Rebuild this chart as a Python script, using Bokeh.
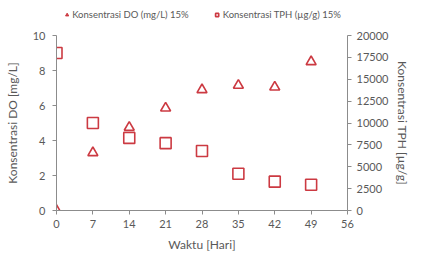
from bokeh.plotting import figure
from bokeh.layouts import column
from bokeh.models import Range1d, LinearAxis, Legend, LegendItem, FixedTicker
from bokeh.embed import file_html
from bokeh.resources import INLINE

days = [0, 7, 14, 21, 28, 35, 42, 49]
do_vals = [0.0, 3.3, 4.75, 5.85, 6.9, 7.15, 7.05, 8.5]
tph_vals = [18000, 10000, 8300, 7700, 6800, 4200, 3300, 2950]
x_ticks = [0, 7, 14, 21, 28, 35, 42, 49, 56]
do_ticks = [0, 2, 4, 6, 8, 10]
tph_ticks = [0, 2500, 5000, 7500, 10000, 12500, 15000, 17500, 20000]
legend_labels = ["Konsentrasi DO (mg/L) 15%", "Konsentrasi TPH (µg/g) 15%"]

RED = "#CC3A42"
GRAY = "#595959"
AX = "#8c8c8c"
FONT = "Lato"

p = figure(width=415, height=226, output_backend="svg", toolbar_location=None,
           x_range=Range1d(0, 56), y_range=Range1d(0, 10),
           min_border_left=56, min_border_right=68, min_border_top=7, min_border_bottom=43)
p.extra_y_ranges = {"tph": Range1d(0, 20000)}
p.outline_line_color = None
p.grid.visible = False
p.background_fill_color = "white"

def style(ax, std=6, lstd=6):
    ax.axis_line_color = AX
    ax.major_tick_line_color = AX
    ax.minor_tick_line_color = None
    ax.major_tick_out = 4
    ax.major_tick_in = 0
    ax.major_label_text_color = GRAY
    ax.major_label_text_font = FONT
    ax.major_label_text_font_size = "11px"
    ax.axis_label_text_color = GRAY
    ax.axis_label_text_font = FONT
    ax.axis_label_text_font_size = "12px"
    ax.axis_label_text_font_style = "normal"
    ax.major_label_standoff = std
    ax.axis_label_standoff = lstd

p.xaxis.ticker = FixedTicker(ticks=x_ticks)
p.yaxis.ticker = FixedTicker(ticks=do_ticks)
p.xaxis.axis_label = "Waktu [Hari]"
p.yaxis.axis_label = "Konsentrasi DO [mg/L]"
style(p.xaxis[0], std=5, lstd=6)
style(p.yaxis[0], std=7, lstd=10)

ry = LinearAxis(y_range_name="tph", ticker=FixedTicker(ticks=tph_ticks),
                axis_label="Konsentrasi TPH [µg/g]")
style(ry, std=5, lstd=4)
p.add_layout(ry, "right")

p.scatter(days, tph_vals, y_range_name="tph", marker="square", size=11,
          fill_color=None, line_color=RED, line_width=1.6)
p.scatter(days, do_vals, marker="triangle", size=10,
          fill_color=None, line_color=RED, line_width=1.6)

# legend strip above the chart (sample glyphs sit outside the strip's visible range)
lf = figure(width=415, height=28, output_backend="svg", toolbar_location=None,
            x_range=Range1d(0, 1), y_range=Range1d(0, 1),
            x_axis_location=None, y_axis_location=None,
            min_border_left=0, min_border_right=0, min_border_top=0, min_border_bottom=0)
lf.outline_line_color = None
lf.grid.visible = False
l_do = lf.scatter([-5], [-5], marker="triangle", size=7, fill_color=RED, line_color=RED)
l_tph = lf.scatter([-5], [-5], marker="square", size=7, fill_color="white", line_color=RED,
                   line_width=1.6)
leg = Legend(items=[LegendItem(label=legend_labels[0], renderers=[l_do]),
                    LegendItem(label=legend_labels[1], renderers=[l_tph])],
             orientation="horizontal", location="center")
leg.label_text_font = FONT
leg.label_text_font_size = "9.5px"
leg.label_text_color = GRAY
leg.glyph_width = 8
leg.glyph_height = 8
leg.label_standoff = 2
leg.spacing = 24
leg.padding = 0
leg.margin = 0
leg.border_line_color = None
leg.background_fill_alpha = 0
lf.add_layout(leg, "center")

layout = column(lf, p, spacing=0)
open("out.html", "w").write(file_html(layout, INLINE))
